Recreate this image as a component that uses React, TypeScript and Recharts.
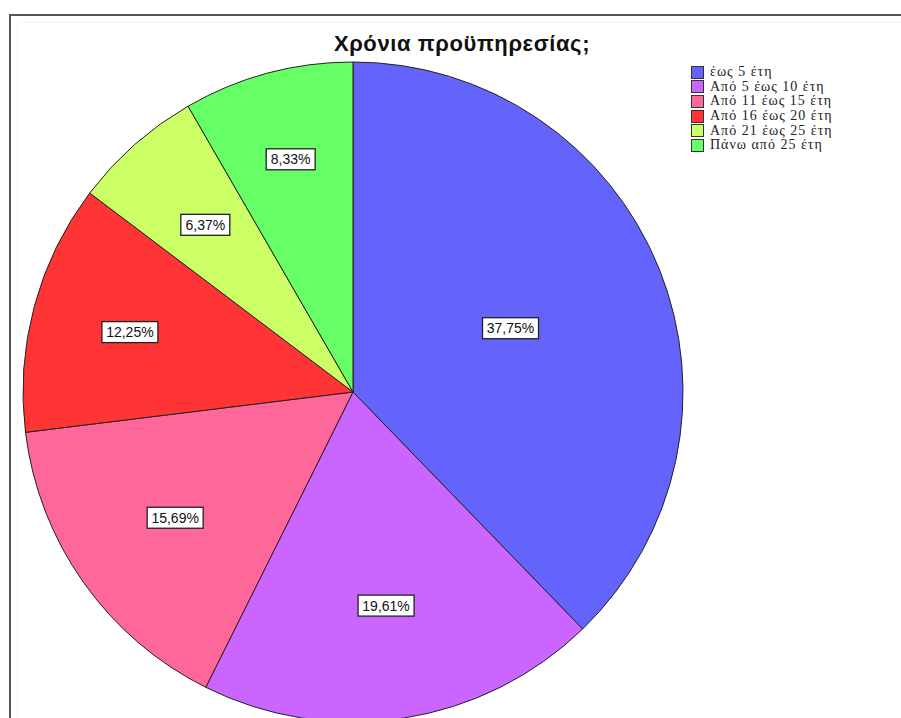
import { PieChart, Pie, Cell, Legend } from 'recharts';

// Χρόνια προϋπηρεσίας – percentages
const CATEGORIES = [
  'έως 5 έτη',
  'Από 5 έως 10 έτη',
  'Από 11 έως 15 έτη',
  'Από 16 έως 20 έτη',
  'Από 21 έως 25 έτη',
  'Πάνω από 25 έτη',
];
const PERCENTS = [37.75, 19.61, 15.69, 12.25, 6.37, 8.33];

const COLORS = ['#6464fc', '#ca66ff', '#ff6699', '#ff3434', '#ccff66', '#66ff66'];
// SPSS puts the value boxes at slightly different distances from the centre
const LABEL_RADIUS = [0.515, 0.655, 0.66, 0.7, 0.676, 0.73];

const RADIAN = Math.PI / 180;

const data = CATEGORIES.map((name, i) => ({ name, value: PERCENTS[i] }));

function renderLabel(props: any) {
  const { cx, cy, midAngle, outerRadius, index, value } = props;
  const r = outerRadius * LABEL_RADIUS[index];
  const x = cx + r * Math.cos(-midAngle * RADIAN);
  const y = cy + r * Math.sin(-midAngle * RADIAN);
  const txt = value.toFixed(2).replace('.', ',') + '%';
  const w = txt.length * 7 + 14;
  const h = 21;
  return (
    <g key={`lbl-${index}`}>
      <rect x={x - w / 2} y={y - h / 2} width={w} height={h} fill="#fff" stroke="#222" strokeWidth={1.3} />
      <text
        x={x}
        y={y + 5}
        textAnchor="middle"
        fontFamily="'Liberation Sans', Arial, sans-serif"
        fontSize={14}
        fill="#111"
      >
        {txt}
      </text>
    </g>
  );
}

function renderLegend() {
  return (
    <div style={{ fontFamily: "'Liberation Serif', 'Times New Roman', serif", fontSize: 14, color: '#222' }}>
      {CATEGORIES.map((name, i) => (
        <div key={name} style={{ display: 'flex', alignItems: 'center', height: 14.6 }}>
          <span
            style={{
              display: 'inline-block',
              width: 11,
              height: 11,
              background: COLORS[i],
              border: '1px solid #333',
              marginRight: 6,
              flexShrink: 0,
            }}
          />
          <span style={{ letterSpacing: 1, whiteSpace: 'nowrap' }}>{name}</span>
        </div>
      ))}
    </div>
  );
}

export default function App() {
  return (
    <div style={{ position: 'absolute', left: 0, top: 0, width: 901, height: 718, overflow: 'hidden', background: '#fff' }}>
      <div
        style={{
          position: 'absolute',
          left: 9,
          top: 14,
          width: 1000,
          height: 1000,
          borderLeft: '2px solid #555',
          borderTop: '2px solid #555',
        }}
      />
      <div
        style={{
          position: 'absolute',
          left: 17,
          top: 22,
          width: 1000,
          height: 1000,
          borderLeft: '1px solid #f3f3f3',
          borderTop: '1px solid #f3f3f3',
        }}
      />
      <div
        style={{
          position: 'absolute',
          left: 262,
          width: 400,
          top: 31,
          textAlign: 'center',
          fontFamily: "'Liberation Sans', Arial, sans-serif",
          fontSize: 22,
          fontWeight: 'bold',
          letterSpacing: 0.6,
          color: '#111',
        }}
      >
        Χρόνια προϋπηρεσίας;
      </div>
      <div style={{ position: 'absolute', left: 0, top: 0 }}>
        <PieChart width={901} height={718} margin={{ top: 0, right: 0, bottom: 0, left: 0 }}>
          <Pie
            data={data}
            dataKey="value"
            nameKey="name"
            cx={353}
            cy={392}
            outerRadius={330}
            startAngle={90}
            endAngle={-270}
            stroke="#222"
            strokeWidth={1}
            label={renderLabel}
            labelLine={false}
            isAnimationActive={false}
          >
            {data.map((entry, index) => (
              <Cell key={`cell-${index}`} fill={COLORS[index]} />
            ))}
          </Pie>
          <Legend
            content={renderLegend}
            layout="vertical"
            verticalAlign="top"
            align="right"
            wrapperStyle={{ left: 691, top: 65, width: 210 }}
          />
        </PieChart>
      </div>
    </div>
  );
}
